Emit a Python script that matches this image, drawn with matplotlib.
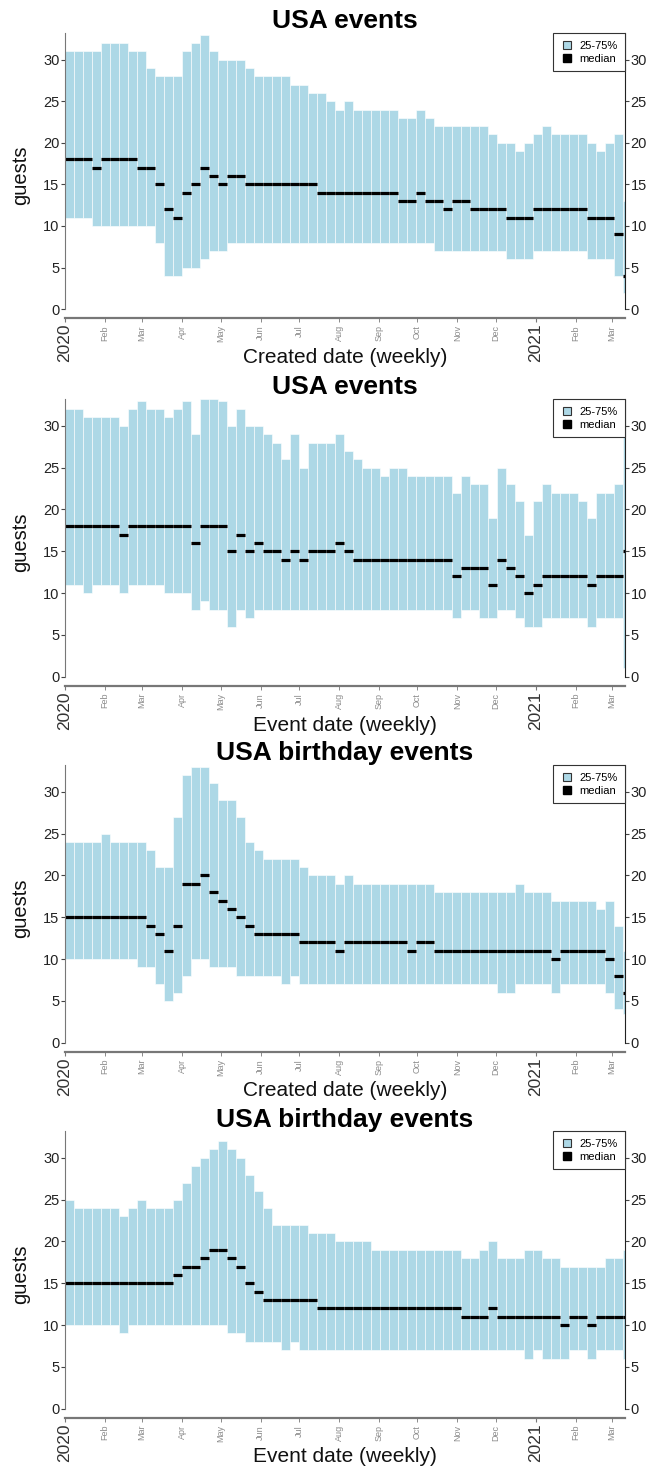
import matplotlib
matplotlib.use('Agg')
import matplotlib.pyplot as plt
import matplotlib.dates as mdates
import matplotlib.ticker as mticker
from matplotlib.lines import Line2D
import numpy as np
import pandas as pd

plt.rcParams['font.family'] = ['Liberation Sans', 'DejaVu Sans']

# ---------------- data ----------------
week_starts = pd.date_range('2020-01-01', periods=63, freq='7D')

titles = ['USA events', 'USA events', 'USA birthday events', 'USA birthday events']
xlabels = ['Created date (weekly)', 'Event date (weekly)',
           'Created date (weekly)', 'Event date (weekly)']
ylabel = 'guests'
legend_labels = ['25-75%', 'median']

year_ticks = ['2020-01-01', '2021-01-01']
year_labels = ['2020', '2021']
month_ticks = ['2020-02-01', '2020-03-01', '2020-04-01', '2020-05-01', '2020-06-01',
               '2020-07-01', '2020-08-01', '2020-09-01', '2020-10-01', '2020-11-01',
               '2020-12-01', '2021-02-01', '2021-03-01']
month_labels = ['Feb', 'Mar', 'Apr', 'May', 'Jun', 'Jul', 'Aug', 'Sep', 'Oct', 'Nov',
                'Dec', 'Feb', 'Mar']
y_ticks = [0, 5, 10, 15, 20, 25, 30]

# panel 1: USA events, created date
p1_high = [31, 31, 31, 31, 32, 32, 32, 31, 31, 29,
           28, 28, 28, 31, 32, 33, 31, 30, 30, 30,
           29, 28, 28, 28, 28, 27, 27, 26, 26, 25,
           24, 25, 24, 24, 24, 24, 24, 23, 23, 24,
           23, 22, 22, 22, 22, 22, 22, 21, 20, 20,
           19, 20, 21, 22, 21, 21, 21, 21, 20, 19,
           20, 21, 13]
p1_low = [11, 11, 11, 10, 10, 10, 10, 10, 10, 10,
          8, 4, 4, 5, 5, 6, 7, 7, 8, 8,
          8, 8, 8, 8, 8, 8, 8, 8, 8, 8,
          8, 8, 8, 8, 8, 8, 8, 8, 8, 8,
          8, 7, 7, 7, 7, 7, 7, 7, 7, 6,
          6, 6, 7, 7, 7, 7, 7, 7, 6, 6,
          6, 4, 2]
p1_med = [18, 18, 18, 17, 18, 18, 18, 18, 17, 17,
          15, 12, 11, 14, 15, 17, 16, 15, 16, 16,
          15, 15, 15, 15, 15, 15, 15, 15, 14, 14,
          14, 14, 14, 14, 14, 14, 14, 13, 13, 14,
          13, 13, 12, 13, 13, 12, 12, 12, 12, 11,
          11, 11, 12, 12, 12, 12, 12, 12, 11, 11,
          11, 9, 4]

# panel 2: USA events, event date
p2_high = [32, 32, 31, 31, 31, 31, 30, 32, 33, 32,
           32, 31, 32, 33, 29, 33.2, 33.2, 33, 30, 32,
           30, 30, 29, 28, 26, 29, 25, 28, 28, 28,
           29, 27, 26, 25, 25, 24, 25, 25, 24, 24,
           24, 24, 24, 22, 24, 23, 23, 19, 25, 23,
           21, 17, 21, 23, 22, 22, 22, 21, 19, 22,
           22, 23, 29]
p2_low = [11, 11, 10, 11, 11, 11, 10, 11, 11, 11,
          11, 10, 10, 10, 8, 9, 8, 8, 6, 8,
          7, 8, 8, 8, 8, 8, 8, 8, 8, 8,
          8, 8, 8, 8, 8, 8, 8, 8, 8, 8,
          8, 8, 8, 7, 8, 8, 7, 7, 8, 8,
          7, 6, 6, 7, 7, 7, 7, 7, 6, 7,
          7, 7, 1]
p2_med = [18, 18, 18, 18, 18, 18, 17, 18, 18, 18,
          18, 18, 18, 18, 16, 18, 18, 18, 15, 17,
          15, 16, 15, 15, 14, 15, 14, 15, 15, 15,
          16, 15, 14, 14, 14, 14, 14, 14, 14, 14,
          14, 14, 14, 12, 13, 13, 13, 11, 14, 13,
          12, 10, 11, 12, 12, 12, 12, 12, 11, 12,
          12, 12, 15]

# panel 3: USA birthday events, created date
p3_high = [24, 24, 24, 24, 25, 24, 24, 24, 24, 23,
           21, 21, 27, 32, 33, 33, 31, 29, 29, 27,
           24, 23, 22, 22, 22, 22, 21, 20, 20, 20,
           19, 20, 19, 19, 19, 19, 19, 19, 19, 19,
           19, 18, 18, 18, 18, 18, 18, 18, 18, 18,
           19, 18, 18, 18, 17, 17, 17, 17, 17, 16,
           17, 14, 11]
p3_low = [10, 10, 10, 10, 10, 10, 10, 10, 9, 9,
          7, 5, 6, 8, 10, 10, 9, 9, 9, 8,
          8, 8, 8, 8, 7, 8, 7, 7, 7, 7,
          7, 7, 7, 7, 7, 7, 7, 7, 7, 7,
          7, 7, 7, 7, 7, 7, 7, 7, 6, 6,
          7, 7, 7, 7, 6, 7, 7, 7, 7, 7,
          6, 4, 3.5]
p3_med = [15, 15, 15, 15, 15, 15, 15, 15, 15, 14,
          13, 11, 14, 19, 19, 20, 18, 17, 16, 15,
          14, 13, 13, 13, 13, 13, 12, 12, 12, 12,
          11, 12, 12, 12, 12, 12, 12, 12, 11, 12,
          12, 11, 11, 11, 11, 11, 11, 11, 11, 11,
          11, 11, 11, 11, 10, 11, 11, 11, 11, 11,
          10, 8, 6]

# panel 4: USA birthday events, event date
p4_high = [25, 24, 24, 24, 24, 24, 23, 24, 25, 24,
           24, 24, 25, 27, 29, 30, 31, 32, 31, 30,
           28, 26, 24, 22, 22, 22, 22, 21, 21, 21,
           20, 20, 20, 20, 19, 19, 19, 19, 19, 19,
           19, 19, 19, 19, 18, 18, 19, 20, 18, 18,
           18, 19, 19, 18, 18, 17, 17, 17, 17, 17,
           18, 18, 19]
p4_low = [10, 10, 10, 10, 10, 10, 9, 10, 10, 10,
          10, 10, 10, 10, 10, 10, 10, 10, 9, 9,
          8, 8, 8, 8, 7, 8, 7, 7, 7, 7,
          7, 7, 7, 7, 7, 7, 7, 7, 7, 7,
          7, 7, 7, 7, 7, 7, 7, 7, 7, 7,
          7, 6, 7, 6, 6, 6, 7, 7, 6, 7,
          7, 7, 6]
p4_med = [15, 15, 15, 15, 15, 15, 15, 15, 15, 15,
          15, 15, 16, 17, 17, 18, 19, 19, 18, 17,
          15, 14, 13, 13, 13, 13, 13, 13, 12, 12,
          12, 12, 12, 12, 12, 12, 12, 12, 12, 12,
          12, 12, 12, 12, 11, 11, 11, 12, 11, 11,
          11, 11, 11, 11, 11, 10, 11, 11, 10, 11,
          11, 11, 11]

panels = [(p1_low, p1_high, p1_med), (p2_low, p2_high, p2_med),
          (p3_low, p3_high, p3_med), (p4_low, p4_high, p4_med)]

# ---------------- layout ----------------
W, H = 648, 1469
fig = plt.figure(figsize=(W / 100, H / 100), dpi=100)
ax_left, ax_right = 65, 625
panel_px = [(33, 318.3), (399, 686), (765, 1052), (1131, 1418)]

bar_color = '#ADD8E6'
x_start = mdates.date2num(pd.Timestamp('2020-01-01'))
x_end = x_start + 435.3
ymin, ymax = -1.1, 33.2

for i, (top, bot) in enumerate(panel_px):
    low, high, med = [np.asarray(a, dtype=float) for a in panels[i]]
    ax = fig.add_axes([ax_left / W, 1 - bot / H, (ax_right - ax_left) / W, (bot - top) / H])
    x = mdates.date2num(week_starts)
    ax.bar(x, high - low, bottom=low, width=7, align='edge', color=bar_color,
           edgecolor='white', linewidth=0.4, zorder=1)
    ax.hlines(med, x, x + 7, colors='black', linewidth=2.3, capstyle='butt', zorder=2)

    ax.set_xlim(x_start, x_end)
    ax.set_ylim(ymin, ymax)

    # spines
    ax.spines['top'].set_visible(False)
    ax.spines['left'].set_color('#777777')
    ax.spines['left'].set_bounds(0, ymax)
    ax.spines['right'].set_color('#222222')
    ax.spines['right'].set_bounds(0, ymax)
    ax.spines['bottom'].set_color('#777777')
    ax.spines['bottom'].set_linewidth(1.6)

    # y ticks
    ax.set_yticks(y_ticks)
    ax.tick_params(axis='y', which='major', left=True, right=True, labelleft=True,
                   labelright=True, length=3, pad=1, labelsize=10.5,
                   color='#444444', labelcolor='#222222')

    # x ticks
    ax.xaxis.set_major_locator(mticker.FixedLocator(mdates.date2num(pd.to_datetime(year_ticks))))
    ax.xaxis.set_major_formatter(mticker.FixedFormatter(year_labels))
    ax.xaxis.set_minor_locator(mticker.FixedLocator(mdates.date2num(pd.to_datetime(month_ticks))))
    ax.xaxis.set_minor_formatter(mticker.FixedFormatter(month_labels))
    ax.tick_params(axis='x', which='major', length=3, pad=1, labelsize=12.5,
                   labelrotation=90, color='#777777', labelcolor='#333333')
    ax.tick_params(axis='x', which='minor', length=3, pad=2, labelsize=6.5,
                   labelrotation=90, color='#777777', labelcolor='#8c8c8c')

    # texts
    ax.text(0.5, 1 + 4.5 / (bot - top), titles[i], transform=ax.transAxes,
            ha='center', va='baseline', fontsize=19, fontweight='bold')
    ax.text(0.5, -44.5 / (bot - top), xlabels[i], transform=ax.transAxes,
            ha='center', va='baseline', fontsize=15, color='#111111')
    ax.text((20.5 - ax_left) / (ax_right - ax_left), 0.5, ylabel, transform=ax.transAxes,
            ha='center', va='center', rotation=90, fontsize=14.5, color='#111111')

    handles = [Line2D([], [], linestyle='none', marker='s', markersize=6,
                      markerfacecolor=bar_color, markeredgecolor='#333333', markeredgewidth=0.8),
               Line2D([], [], linestyle='none', marker='s', markersize=6,
                      markerfacecolor='black', markeredgecolor='black')]
    leg = ax.legend(handles, legend_labels, loc='upper right', bbox_to_anchor=(1, 1),
                    borderaxespad=0, fontsize=8, frameon=True, fancybox=False,
                    handlelength=1.0, handletextpad=0.6, borderpad=0.7,
                    labelspacing=0.25)
    leg.get_frame().set_edgecolor('#333333')
    leg.get_frame().set_linewidth(0.8)
    leg.get_frame().set_alpha(1)

fig.savefig('out.png', dpi=100)
